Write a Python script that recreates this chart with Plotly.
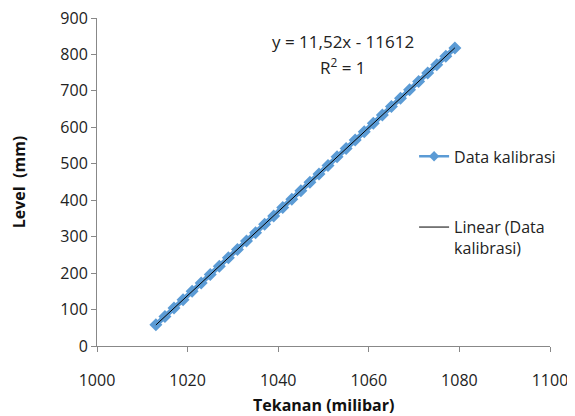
import numpy as np
import plotly.graph_objects as go

# Data
tekanan = [1013, 1015, 1017, 1019, 1021, 1023, 1025, 1027, 1029, 1031, 1033, 1035,
           1037, 1039, 1041, 1043, 1045, 1047, 1049, 1051, 1053, 1055, 1057, 1059,
           1061, 1063, 1065, 1067, 1069, 1071, 1073, 1075, 1077, 1079]
level = [58, 81, 104, 127, 150, 173, 196, 219, 242, 265, 288, 311,
         334, 357, 380, 403, 426, 449, 472, 495, 519, 542, 565, 588,
         611, 634, 657, 680, 703, 726, 749, 772, 795, 818]

x_ticks = [1000, 1020, 1040, 1060, 1080, 1100]
y_ticks = [0, 100, 200, 300, 400, 500, 600, 700, 800, 900]

series_name = "Data kalibrasi"
trend_name = "Linear (Data<br>kalibrasi)"
equation = "y = 11,52x - 11612"
r2_text = "R<sup>2</sup> = 1"
x_title = "<b>Tekanan (milibar)</b>"
y_title = "<b>Level  (mm)</b>"

blue = "#5B9BD5"
font_family = "Open Sans, Noto Sans, sans-serif"

slope, intercept = np.polyfit(tekanan, level, 1)
tx = [min(tekanan), max(tekanan)]
ty = [slope * v + intercept for v in tx]

fig = go.Figure()
fig.add_trace(go.Scatter(
    x=tekanan, y=level, mode="lines+markers", showlegend=False,
    line=dict(color=blue, width=5),
    marker=dict(symbol="diamond", size=10, color=blue),
))
# legend entry for the data series (thin line like the original legend)
fig.add_trace(go.Scatter(
    x=[None], y=[None], mode="lines+markers", name=series_name,
    line=dict(color=blue, width=2.5),
    marker=dict(symbol="diamond", size=8, color=blue),
    legendgroup="a",
))
fig.add_trace(go.Scatter(
    x=tx, y=ty, mode="lines", name=trend_name,
    line=dict(color="black", width=1),
    legendgroup="b",
))

# plot area is 328 px tall; positions measured from its top
fig.add_annotation(x=0.543, y=1 - 24 / 328, xref="paper", yref="paper",
                   text=equation, showarrow=False,
                   xanchor="center", yanchor="middle",
                   font=dict(size=17, color="#222", family=font_family))
fig.add_annotation(x=0.543, y=1 - 48 / 328, xref="paper", yref="paper",
                   text=r2_text, showarrow=False,
                   xanchor="center", yanchor="middle",
                   font=dict(size=17, color="#222", family=font_family))
# x axis title
fig.add_annotation(x=0.5, y=0, xref="paper", yref="paper", yshift=-59,
                   text=x_title, showarrow=False,
                   xanchor="center", yanchor="middle",
                   font=dict(size=16, color="#111", family=font_family))

axis_common = dict(
    showgrid=False, zeroline=False, showline=True, linecolor="#888888",
    linewidth=1, ticks="outside", ticklen=5, tickcolor="#888888",
    tickfont=dict(size=16, color="#222", family=font_family),
    automargin=False, ticklabeloverflow="allow",
)
fig.update_xaxes(range=[1000, 1100], tickvals=x_ticks, ticklabelstandoff=15,
                 **axis_common)
fig.update_yaxes(range=[0, 900], tickvals=y_ticks,
                 title=dict(text=y_title, standoff=36,
                            font=dict(size=16, color="#111", family=font_family)),
                 **axis_common)

# page has an 8px body margin, so the figure is 567x408 placed at (8, 8)
fig.update_layout(
    width=567, height=408,
    margin=dict(l=89, r=25, t=10, b=70),
    plot_bgcolor="white", paper_bgcolor="white",
    legend=dict(x=0.70, y=0.63, xanchor="left", yanchor="top",
                bgcolor="rgba(0,0,0,0)", traceorder="grouped",
                tracegroupgap=47, valign="top",
                font=dict(size=16, color="#222", family=font_family)),
)

fig.write_html("out.html")
